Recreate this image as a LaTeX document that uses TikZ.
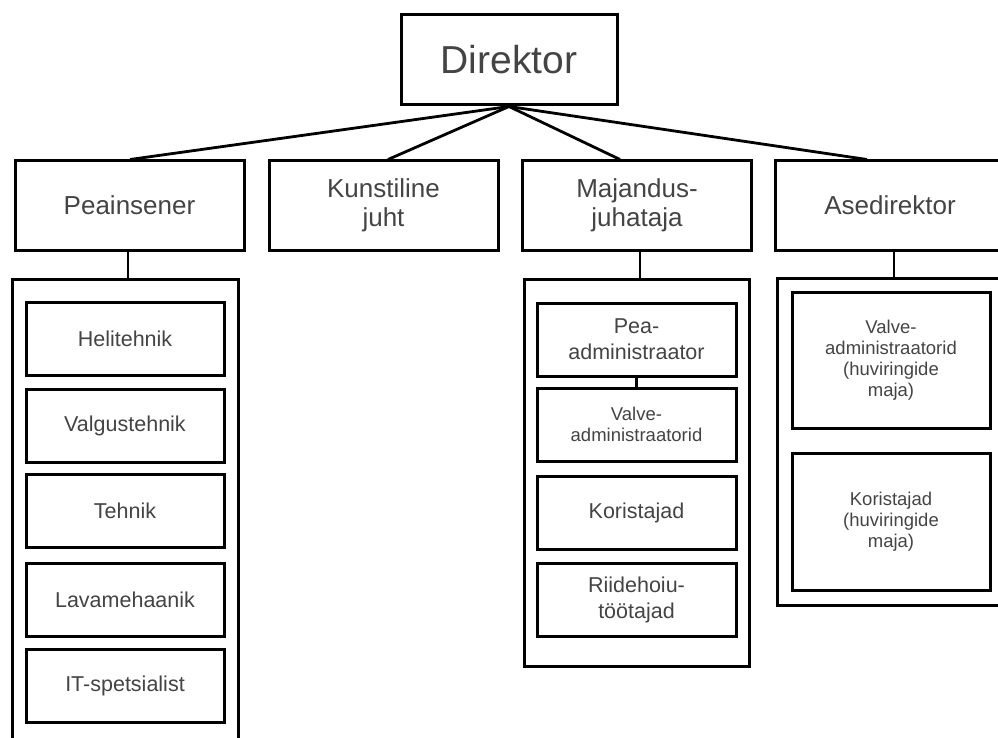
\documentclass[tikz,border=0pt]{standalone}
\usepackage{fontspec}
\setmainfont{Liberation Sans}
\usetikzlibrary{calc}
\definecolor{txt}{RGB}{68,68,68}
\newcommand{\fsz}[2]{\fontsize{#1pt}{#2pt}\selectfont}
\tikzset{
  box/.style={draw=black, line width=3pt, rectangle, inner sep=0pt, text=txt, align=center},
  cont/.style={draw=black, line width=3pt, rectangle, inner sep=0pt},
  conn/.style={draw=black, line width=2.8pt},
  top/.style={box, minimum width=229, minimum height=89, font=\fsz{26}{28.5}},
  sub/.style={box, minimum width=198, minimum height=73, font=\fsz{21.5}{26}},
  subs/.style={box, minimum width=198, minimum height=73, font=\fsz{18.5}{20.5}},
  subt/.style={box, minimum width=198, minimum height=136, font=\fsz{18.5}{21}}
}
\begin{document}
\begin{tikzpicture}[x=1pt,y=-1pt]
\useasboundingbox (0,0) rectangle (998,738);
\clip (0,0) rectangle (998,738);
\fill[white] (0,0) rectangle (998,738);

% Director
\node[box, minimum width=216, minimum height=90, font=\fsz{39}{44}] (dir) at (509,60) {Direktor};

% Level 2
\node[top] (pe) at (129.5,205.5) {Peainsener};
\node[top] (ku) at (383.5,205.5) {Kunstiline\\juht};
\node[top] (ma) at (637,205.5) {Majandus-\\juhataja};
\node[top] (as) at (890,205.5) {Asedirektor};

% Containers
\node[cont, minimum width=226, minimum height=491] (pecont) at (125,524.5) {};
\node[cont, minimum width=225, minimum height=387] (macont) at (636.5,472.5) {};
\node[cont, minimum width=234, minimum height=327] (ascont) at (894,441.5) {};

% Peainsener group
\node[sub] (he) at (125,339) {Helitehnik};
\node[sub] (vt) at (125,425.5) {Valgustehnik};
\node[sub] (te) at (125,511) {Tehnik};
\node[sub] (la) at (125,600) {Lavamehaanik};
\node[sub] (it) at (125,686) {IT-spetsialist};

% Majandusjuhataja group
\node[sub, minimum width=199] (pa) at (636.5,339.5) {Pea-\\administraator};
\node[subs, minimum width=199] (va) at (636.5,424.5) {Valve-\\administraatorid};
\node[sub, minimum width=199] (ko) at (636.5,512.5) {Koristajad};
\node[sub, minimum width=199] (ri) at (636.5,600) {Riidehoiu-\\töötajad};

% Asedirektor group
\node[subt] (vh) at (891,360) {Valve-\\administraatorid\\(huviringide\\maja)};
\node[subt, minimum height=137] (kh) at (891,521.5) {Koristajad\\(huviringide\\maja)};

% Connectors
\draw[conn] (dir.south) -- ($(pe.north)+(0.5,0)$);
\draw[conn] (dir.south) -- ($(ku.north)+(4.5,0)$);
\draw[conn] (dir.south) -- ($(ma.north)+(-17,0)$);
\draw[conn] (dir.south) -- ($(as.north)+(-23,0)$);

\coordinate (pev) at ($(pe.south)+(-1.5,0)$);
\coordinate (mav) at ($(ma.south)+(3,0)$);
\draw[conn] (pev) -- (pev |- pecont.north);
\draw[conn] (mav) -- (mav |- macont.north);
\draw[conn] (ascont.north) -- (ascont.north |- as.south);
\draw[conn] (pa.south) -- (va.north);
\end{tikzpicture}
\end{document}
